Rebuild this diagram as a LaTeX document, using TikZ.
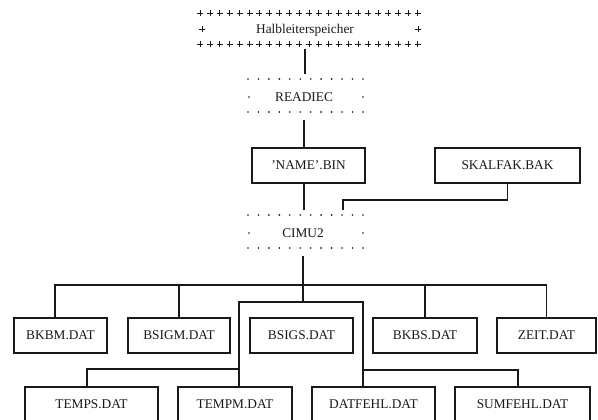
\documentclass[tikz,border=0pt]{standalone}
\usepackage{fontspec}
\setmainfont{Liberation Serif}
\usetikzlibrary{calc}
\begin{document}
\begin{tikzpicture}[x=0.75pt,y=-0.75pt,line width=0.8pt,color=black!90,
  txt/.style={font=\fontsize{10}{12}\selectfont, inner sep=0pt},
  filebox/.style={txt, draw, minimum height=26.25pt, minimum width=#1*0.75pt},
  dotbox/.style={txt, minimum width=86pt, minimum height=34pt},
  plusmark/.style={line width=0.6pt}]
\useasboundingbox (0,0) rectangle (598,420);
\clip (0,0) rectangle (598,420);
\fill[white] (0,0) rectangle (598,420);

% Halbleiterspeicher (plus-sign frame)
\node[txt, minimum width=160pt, minimum height=27pt] (hl) at (305,30) {Halbleiterspeicher};
\foreach \i in {0,...,22} {
  \draw[plusmark] ({200+\i*9.9-3},13) -- ({200+\i*9.9+3},13) ({200+\i*9.9},10) -- ({200+\i*9.9},16);
  \draw[plusmark] ({200+\i*9.9-3},44) -- ({200+\i*9.9+3},44) ({200+\i*9.9},41) -- ({200+\i*9.9},47);
}
\foreach \x in {202,418} {
  \draw[plusmark] (\x-3,29.5) -- (\x+3,29.5) (\x,26.5) -- (\x,32.5);
}

% READIEC (dotted frame)
\node[dotbox] (readiec) at (304,97) {READIEC};
\foreach \i in {0,...,11} {
  \fill (248+\i*10.45,79) circle (0.7pt);
  \fill (248+\i*10.45,112) circle (0.7pt);
}
\fill (249,97) circle (0.7pt);
\fill (363,97) circle (0.7pt);

% file boxes, upper
\node[filebox=113] (namebin) at (308.5,165.5) {'NAME'.BIN};
\node[filebox=145] (skal) at (507.5,165.5) {SKALFAK.BAK};

% CIMU2 (dotted frame)
\node[dotbox] (cimu) at (303,233) {CIMU2};
\foreach \i in {0,...,11} {
  \fill (248+\i*10.45,215) circle (0.7pt);
  \fill (248+\i*10.45,248) circle (0.7pt);
}
\fill (249,233) circle (0.7pt);
\fill (363,233) circle (0.7pt);

% middle row
\node[filebox=93]  (bkbm)  at (60.5,335.5) {BKBM.DAT};
\node[filebox=102] (bsigm) at (179,335.5) {BSIGM.DAT};
\node[filebox=103] (bsigs) at (301.5,335.5) {BSIGS.DAT};
\node[filebox=104] (bkbs)  at (425,335.5) {BKBS.DAT};
\node[filebox=99]  (zeit)  at (546.5,335.5) {ZEIT.DAT};

% bottom row
\node[filebox=133] (temps)   at (91.5,404.5) {TEMPS.DAT};
\node[filebox=114] (tempm)   at (235,404.5) {TEMPM.DAT};
\node[filebox=123] (datfehl) at (373.5,404.5) {DATFEHL.DAT};
\node[filebox=135] (sumfehl) at (522.5,404.5) {SUMFEHL.DAT};

% connector coordinates
\coordinate (sk1) at (343,200);
\coordinate (bus) at (303,285);
\coordinate (b1) at (239,302);
\coordinate (b2) at (363,302);
\coordinate (c1) at (87,369);
\coordinate (c2) at (518,370);
\coordinate (m1) at (55,285);

% connectors
\draw (hl.south) -- (readiec.north -| hl.south);
\draw (readiec.south) -- (readiec.south |- namebin.north);
\draw (namebin.south -| readiec.south) -- (readiec.south |- cimu.north);
\draw (skal.south) |- (sk1) -- (sk1 |- cimu.north);
\draw (cimu.south) -- (cimu.south |- b1);
\draw (m1 |- bkbm.north) -- (m1) -| (zeit.north);
\draw (bsigm.north) -- (bsigm.north |- bus);
\draw (bkbs.north) -- (bkbs.north |- bus);
\draw (b1 |- tempm.north) -- (b1) -- (b2) -- (b2 |- datfehl.north);
\draw (c1 |- temps.north) -- (c1) -- (b1 |- c1);
\draw (b2 |- c2) -- (c2) -- (c2 |- sumfehl.north);
\end{tikzpicture}
\end{document}
